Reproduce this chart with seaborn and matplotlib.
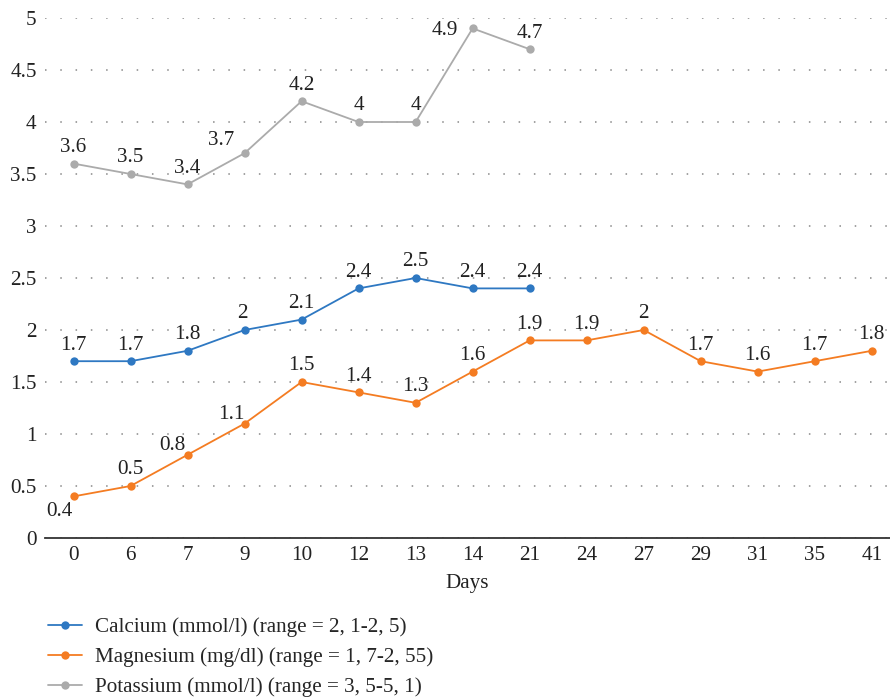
import numpy as np
import pandas as pd
import matplotlib
matplotlib.use('Agg')
import matplotlib.pyplot as plt
import seaborn as sns

# Data
days = ['0', '6', '7', '9', '10', '12', '13', '14', '21', '24', '27', '29', '31', '35', '41']
calcium = [1.7, 1.7, 1.8, 2.0, 2.1, 2.4, 2.5, 2.4, 2.4] + [np.nan] * 6
magnesium = [0.4, 0.5, 0.8, 1.1, 1.5, 1.4, 1.3, 1.6, 1.9, 1.9, 2.0, 1.7, 1.6, 1.7, 1.8]
potassium = [3.6, 3.5, 3.4, 3.7, 4.2, 4.0, 4.0, 4.9, 4.7] + [np.nan] * 6

names = ['Calcium (mmol/l) (range = 2, 1-2, 5)',
         'Magnesium (mg/dl) (range = 1, 7-2, 55)',
         'Potassium (mmol/l) (range = 3, 5-5, 1)']
colors = ['#2E78C2', '#F47C22', '#ABABAB']

rows = []
for name, vals in zip(names, [calcium, magnesium, potassium]):
    for d, v in zip(days, vals):
        rows.append({'day': d, 'value': v, 'series': name})
df = pd.DataFrame(rows).dropna()

sns.set_style('white')
plt.rcParams['font.family'] = ['Liberation Serif', 'DejaVu Serif']
fs = 15.2

fig = plt.figure(figsize=(8.9, 6.97), dpi=100)
ax = fig.add_axes([45 / 890, 159 / 697, 845 / 890, 520 / 697])

sns.lineplot(data=df, x='day', y='value', hue='series', palette=colors,
             marker='o', markersize=6, markeredgewidth=0, linewidth=1.3,
             sort=False, ax=ax)

# label offsets (pixels) for a few crowded points
offsets = {(0, 3): (-2, 17),
           (1, 0): (-14, -15), (1, 2): (-15, 9), (1, 3): (-13, 9),
           (2, 3): (-23, 13), (2, 7): (-28, -2)}
for si, vals in enumerate([calcium, magnesium, potassium]):
    for i, v in enumerate(vals):
        if np.isnan(v):
            continue
        dx, dy = offsets.get((si, i), (0, 16))
        ax.annotate(f'{v:g}', (i, v), xytext=(dx, dy), textcoords='offset pixels',
                    ha='center', va='center', fontsize=fs, color='#222222',
                    annotation_clip=False)

ax.set_xlim(-0.5, 14.32)
ax.set_ylim(0, 5)
ax.set_yticks(np.arange(0, 5.01, 0.5))
ax.set_yticklabels([f'{t:g}' for t in np.arange(0, 5.01, 0.5)])
ax.yaxis.grid(True, linestyle=(0, (1, 9)), color='#888888', linewidth=1.1)
ax.xaxis.grid(False)
ax.set_axisbelow(True)
for s in ['top', 'right', 'left']:
    ax.spines[s].set_visible(False)
ax.spines['bottom'].set_color('#333333')
ax.spines['bottom'].set_linewidth(1.3)
ax.tick_params(axis='both', length=0, labelsize=fs, colors='#222222', pad=6)
ax.set_xlabel('Days', fontsize=fs, color='#222222', labelpad=6)
ax.set_ylabel('')

handles, labels = ax.get_legend_handles_labels()
ax.legend(handles, labels, loc='upper left', bbox_to_anchor=(40 / 890, 1 - 609 / 697),
          bbox_transform=fig.transFigure, frameon=False, fontsize=fs,
          handlelength=1.6, handletextpad=0.6, labelspacing=0.48, borderaxespad=0)

fig.savefig('out.png', dpi=100)
